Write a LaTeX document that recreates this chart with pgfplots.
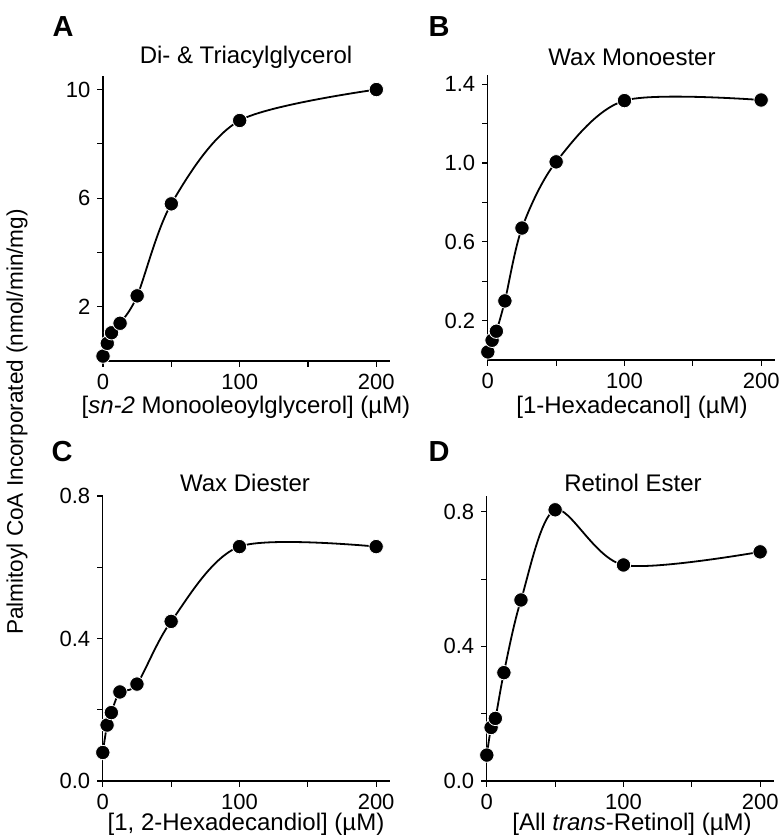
\documentclass[border=0pt]{standalone}
\usepackage{fontspec}
\setmainfont{Liberation Sans}
\usepackage{pgfplots}
\pgfplotsset{compat=1.18}

\pgfplotsset{
  panel/.style={
    scale only axis, width=143.5pt, height=142.5pt,
    xmin=0, xmax=210, ymin=0,
    axis x line*=bottom, axis y line*=left,
    axis line style={line width=0.6pt,-},
    xtick={0,100,200}, minor xtick={50,150},
    tick align=outside, major tick length=2.8pt, minor tick length=2.8pt,
    every tick/.style={line width=0.6pt,black},
    clip=false,
    tick label style={font=\fontsize{11}{12}\selectfont},
    /pgf/number format/assume math mode=true,
  },
  onedec/.style={yticklabel style={/pgf/number format/.cd,fixed,fixed zerofill,precision=1}},
  curve/.style={black,line width=0.9pt,smooth,tension=0.5,
    mark=*,mark size=3.6pt,mark options={fill=black,draw=white,line width=0.4pt}},
}
\newcommand{\lab}{\fontsize{12}{14}\selectfont}

\begin{document}
\begin{tikzpicture}
\useasboundingbox (0,0) rectangle (391pt,419.5pt);

% A
\begin{axis}[panel, at={(51.5pt,239pt)}, anchor=south west,
  ymax=10.5, ytick={2,6,10}, minor ytick={4,8}]
\addplot[curve] coordinates {(0,0.18) (3.125,0.65) (6.25,1.04) (12.5,1.39) (25,2.40) (50,5.79) (100,8.86) (200,10.0)};
\end{axis}

% B
\begin{axis}[panel, onedec, at={(243.9pt,239.5pt)}, anchor=south west,
  ymax=1.447, ytick={0.2,0.6,1.0,1.4}, minor ytick={0.4,0.8,1.2}]
\addplot[curve] coordinates {(0,0.041) (3.125,0.10) (6.25,0.146) (12.5,0.30) (25,0.67) (50,1.006) (100,1.317) (200,1.32)};
\end{axis}

% C
\begin{axis}[panel, onedec, at={(51.4pt,29pt)}, anchor=south west,
  ymax=0.8, ytick={0,0.4,0.8}, minor ytick={0.2,0.6}]
\addplot[curve] coordinates {(0,0.080) (3.125,0.157) (6.25,0.192) (12.5,0.25) (25,0.272) (50,0.448) (100,0.658) (200,0.658)};
\end{axis}

% D
\begin{axis}[panel, onedec, at={(243.4pt,29pt)}, anchor=south west,
  ymax=0.847, ytick={0,0.4,0.8}, minor ytick={0.2,0.6}]
\addplot[curve] coordinates {(0,0.077) (3.125,0.159) (6.25,0.186) (12.5,0.322) (25,0.538) (50,0.806) (100,0.642) (200,0.681)};
\end{axis}

% panel letters
\tikzset{letter/.style={font=\fontsize{14.5}{16}\selectfont\bfseries}}
\node[letter] at (31.5pt,406pt) {A};
\node[letter] at (219.5pt,406pt) {B};
\node[letter] at (31pt,193.5pt) {C};
\node[letter] at (219.5pt,193.5pt) {D};

% titles
\node[font=\lab] at (123pt,390.75pt) {Di- \& Triacylglycerol};
\node[font=\lab] at (316pt,391pt) {Wax Monoester};
\node[font=\lab] at (122.5pt,178pt) {Wax Diester};
\node[font=\lab] at (316.5pt,178pt) {Retinol Ester};

% x labels
\node[font=\lab] at (123pt,216pt) {[\textit{sn-2} Monooleoylglycerol] (µM)};
\node[font=\lab] at (316pt,216pt) {[1-Hexadecanol] (µM)};
\node[font=\lab] at (123pt,7.5pt) {[1, 2-Hexadecandiol] (µM)};
\node[font=\lab] at (316pt,7.5pt) {[All \textit{trans}-Retinol] (µM)};

% shared y label
\node[font=\fontsize{11.3}{13}\selectfont, rotate=90] at (8.5pt,208.5pt) {Palmitoyl CoA Incorporated (nmol/min/mg)};
\end{tikzpicture}
\end{document}
